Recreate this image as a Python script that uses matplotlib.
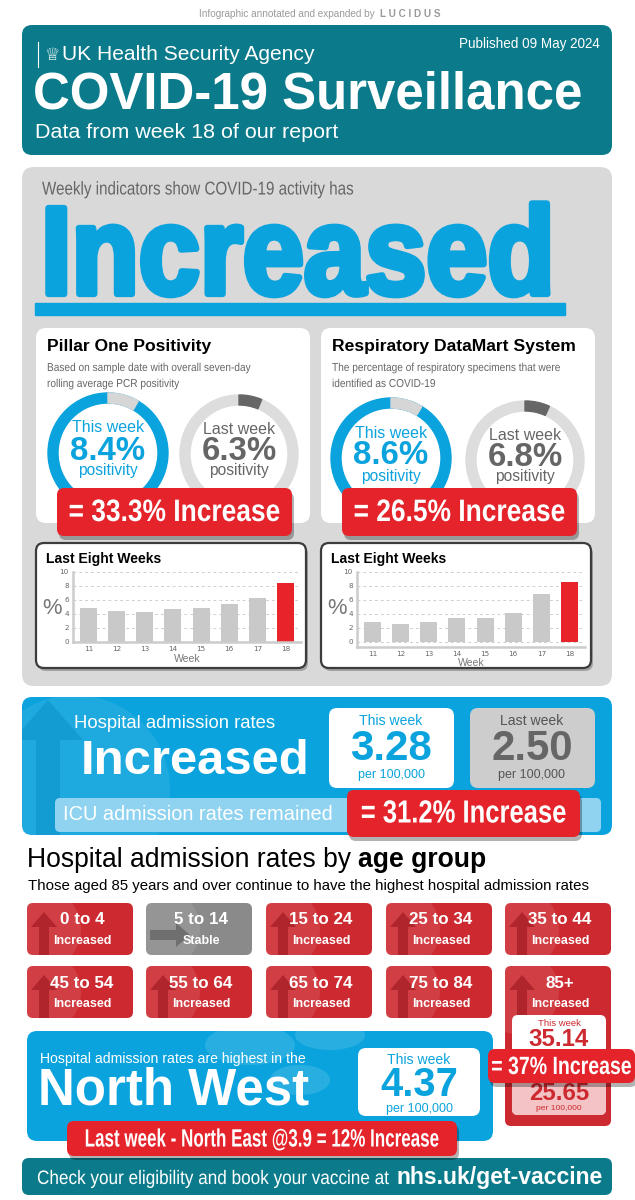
import matplotlib
matplotlib.use('Agg')
import matplotlib.pyplot as plt
from matplotlib.patches import FancyBboxPatch, Wedge, Circle, Ellipse, FancyArrow
from matplotlib.patheffects import AbstractPathEffect
from matplotlib.transforms import Affine2D
from matplotlib import font_manager

W, H = 635, 1200

weeks = [11, 12, 13, 14, 15, 16, 17, 18]
pillar_one = [4.8, 4.5, 4.3, 4.7, 4.8, 5.4, 6.3, 8.4]
datamart = [2.9, 2.6, 2.9, 3.4, 3.5, 4.2, 6.8, 8.6]
pillar_now, pillar_prev = 8.4, 6.3
datamart_now, datamart_prev = 8.6, 6.8
hosp_now, hosp_prev = 3.28, 2.50
age_groups = ['0 to 4', '5 to 14', '15 to 24', '25 to 34', '35 to 44',
              '45 to 54', '55 to 64', '65 to 74', '75 to 84', '85+']
age_trend = ['Increased', 'Stable', 'Increased', 'Increased', 'Increased',
             'Increased', 'Increased', 'Increased', 'Increased', 'Increased']
over85_now, over85_prev = 35.14, 25.65
region_now, region_prev = 4.37, 3.9

TEAL = '#0b7b8b'
BLUE = '#0ba3dd'
RED = '#e5232b'
AGE_RED = '#cc2a30'
PANEL = '#d9d9d9'

avail = {f.name for f in font_manager.fontManager.ttflist}
SANS = 'Liberation Sans' if 'Liberation Sans' in avail else 'DejaVu Sans'

fig = plt.figure(figsize=(W / 100, H / 100), dpi=100)
fig.patch.set_facecolor('white')
ax = fig.add_axes([0, 0, 1, 1])
ax.set_xlim(0, W)
ax.set_ylim(H, 0)
ax.axis('off')


class Squeeze(AbstractPathEffect):
    '''Narrow the glyphs horizontally around x0 (no condensed font installed).'''

    def __init__(self, x0, sx, lw=0):
        super().__init__()
        self.x0, self.sx, self.lw = x0, sx, lw

    def draw_path(self, renderer, gc, tpath, affine, rgbFace=None):
        aff = affine + Affine2D().translate(-self.x0, 0).scale(self.sx, 1).translate(self.x0, 0)
        gc0 = renderer.new_gc()
        gc0.copy_properties(gc)
        if self.lw:
            gc0.set_linewidth(self.lw)
            gc0.set_foreground(rgbFace)
            gc0.set_joinstyle('round')
        renderer.draw_path(gc0, tpath, aff, rgbFace)
        gc0.restore()


def box(x, y, w, h, fc, r=8, **kw):
    p = FancyBboxPatch((x, y), w, h, boxstyle=f'round,pad=0,rounding_size={r}',
                       fc=fc, ec=kw.pop('ec', 'none'), **kw)
    ax.add_patch(p)
    return p


def txt(x, y, s, px, color='white', weight='normal', ha='left', va='center', family=None,
        sx=None, lw=0, **kw):
    t = ax.text(x, y, s, fontsize=px * 0.72, color=color, fontweight=weight, ha=ha, va=va,
                family=family or SANS, **kw)
    if sx:
        x0 = ax.transData.transform((x, y))[0]
        t.set_path_effects([Squeeze(x0, sx, lw)])
    return t


def banner(x, y, w, h, s, px, sx):
    box(x + 2, y + 4, w, h, 'black', r=7, alpha=0.3, zorder=8)
    box(x, y, w, h, RED, r=7, zorder=9)
    txt(x + w / 2, y + h / 2 + 1, s, px, weight='bold', ha='center', sx=sx, zorder=10)


def pct(a, b, nd=1):
    return f'= {(a / b - 1) * 100:.{nd}f}% Increase'


# header
txt(375, 14, 'Infographic annotated and expanded by', 10, color='#9a9a9a', ha='right')
txt(380, 14, 'L U C I D U S', 10, color='#9a9a9a', weight='bold')
box(22, 25, 590, 130, TEAL, r=10)
ax.plot([38, 38], [42, 67], color='white', lw=0.8)
txt(44, 55, '\u2655', 17, family=['DejaVu Sans'])
txt(62, 55, 'UK Health Security Agency', 21)
txt(600, 44, 'Published 09 May 2024', 13.5, ha='right')
txt(33, 95, 'COVID-19 Surveillance', 51, weight='bold')
txt(35, 133, 'Data from week 18 of our report', 21.5)

# grey panel
box(22, 167, 590, 519, PANEL, r=12)
txt(42, 190, 'Weekly indicators show COVID-19 activity has', 18.5, color='#666666', sx=0.82)
txt(41, 262, 'Increased', 125, color=BLUE, weight='bold', sx=0.88, lw=4.5)
ax.add_patch(plt.Rectangle((35, 303), 530, 12, color=BLUE))


def ring_card(x0, title, sub, now, prev, c1, c2, banner_s):
    box(x0, 328, 274, 195, 'white', r=10)
    txt(x0 + 11, 346, title, 17.5, color='black', weight='bold')
    txt(x0 + 11, 368, sub[0], 11.5, color='#666666', sx=0.88)
    txt(x0 + 11, 384, sub[1], 11.5, color='#666666', sx=0.88)
    # this week ring
    ax.add_patch(Wedge(c1, 60, 0, 360, width=10, color=BLUE))
    ax.add_patch(Wedge(c1, 60, 270, 270 + 3.6 * now, width=10, color='#d6d6d6'))
    txt(c1[0], c1[1] - 25, 'This week', 16, color=BLUE, ha='center')
    txt(c1[0], c1[1] - 2, f'{now}%', 33, color=BLUE, weight='bold', ha='center')
    txt(c1[0], c1[1] + 18, 'positivity', 15.5, color=BLUE, ha='center')
    # last week ring
    ax.add_patch(Wedge(c2, 59, 0, 360, width=10, color='#dddddd'))
    ax.add_patch(Wedge(c2, 59, 270, 270 + 3.6 * prev, width=10, color='#666666'))
    txt(c2[0], c2[1] - 25, 'Last week', 16, color='#666666', ha='center')
    txt(c2[0], c2[1] - 2, f'{prev}%', 33, color='#666666', weight='bold', ha='center')
    txt(c2[0], c2[1] + 17, 'positivity', 15.5, color='#666666', ha='center')
    banner(x0 + 21, 488, 235, 48, banner_s, 31, 0.85)


ring_card(36, 'Pillar One Positivity',
          ['Based on sample date with overall seven-day', 'rolling average PCR positivity'],
          pillar_now, pillar_prev, (108, 453), (239, 454), pct(pillar_now, pillar_prev))
ring_card(321, 'Respiratory DataMart System',
          ['The percentage of respiratory specimens that were', 'identified as COVID-19'],
          datamart_now, datamart_prev, (391, 458), (525, 460), pct(datamart_now, datamart_prev))


def bar_card(x0, vals, ax_left, ymin):
    box(x0 + 2, 546, 270, 125, 'black', r=8, alpha=0.25)
    box(x0, 543, 270, 125, 'white', r=8, ec='#3c3c3c', lw=1.6)
    txt(x0 + 10, 559, 'Last Eight Weeks', 14, color='black', weight='bold')
    txt(x0 + 16, 608, '%', 22, color='#777777', ha='center')
    bottom_px = 642 + (-ymin) * 7
    axb = fig.add_axes([ax_left / W, 1 - bottom_px / H, 228 / W, (bottom_px - 572) / H])
    colors = ['#c9c9c9'] * (len(vals) - 1) + ['#e8232a']
    axb.bar(weeks, vals, width=0.6, color=colors, zorder=2)
    axb.set_xlim(10.45, 18.55)
    axb.set_ylim(ymin, 10)
    axb.set_yticks(range(0, 11, 2))
    axb.set_xticks(weeks)
    axb.patch.set_alpha(0)
    axb.grid(axis='y', linestyle=(0, (3, 3)), color='#cfcfcf', lw=0.7, zorder=0)
    for s in ['top', 'right']:
        axb.spines[s].set_visible(False)
    for s in ['left', 'bottom']:
        axb.spines[s].set_color('#cccccc')
        axb.spines[s].set_linewidth(1.8)
    axb.tick_params(length=0, labelsize=5.2, labelcolor='#666666', pad=3)
    axb.set_xlabel('Week', fontsize=7.5, color='#777777', labelpad=1, family=SANS)


bar_card(36, pillar_one, 73, 0)
bar_card(321, datamart, 357, -0.7)

# hospital admissions panel
hp = box(22, 697, 590, 138, BLUE, r=10)
c = Circle((75, 790), 95, fc='white', alpha=0.08)
ax.add_patch(c)
c.set_clip_path(hp)
a = FancyArrow(48, 845, 0, -105, width=24, head_width=70, head_length=40, fc='#0a8fc5', ec='none', alpha=0.5)
ax.add_patch(a)
a.set_clip_path(hp)
txt(74, 723, 'Hospital admission rates', 18.5)
txt(81, 761, 'Increased', 49, weight='bold')
box(329, 708, 125, 80, 'white', r=8)
txt(391, 721, 'This week', 14, color=BLUE, ha='center')
txt(391, 749, f'{hosp_now:.2f}', 42, color=BLUE, weight='bold', ha='center')
txt(391, 775, 'per 100,000', 12.5, color=BLUE, ha='center')
box(470, 708, 125, 80, '#cdcdcd', r=8)
txt(532, 721, 'Last week', 14, color='#555555', ha='center')
txt(532, 749, f'{hosp_prev:.2f}', 42, color='#666666', weight='bold', ha='center')
txt(532, 775, 'per 100,000', 12.5, color='#555555', ha='center')
box(55, 798, 546, 34, '#8fd3f0', r=5)
txt(63, 815, 'ICU admission rates remained', 20)
banner(347, 790, 233, 47, pct(hosp_now, hosp_prev), 32, 0.8)

# age group section
t1 = txt(27, 873, 'Hospital admission rates by ', 26.5, color='black', va='bottom')
ax.annotate('age group', xy=(1, 0), xycoords=t1, va='bottom', ha='left', fontsize=26.5 * 0.72,
            fontweight='bold', family=SANS, color='black')
txt(28, 886, 'Those aged 85 years and over continue to have the highest hospital admission rates',
    15, color='black')

col_x = [27, 146, 266, 386, 505]
row_y = [903, 966]
for i, (grp, trend) in enumerate(zip(age_groups, age_trend)):
    x, y = col_x[i % 5], row_y[i // 5]
    h = 160 if grp == '85+' else 52
    fc = '#8a8a8a' if trend == 'Stable' else AGE_RED
    b = box(x, y, 106, h, fc, r=6)
    cc = Circle((x + 12, y + 26), 42, fc='white', alpha=0.1)
    ax.add_patch(cc)
    cc.set_clip_path(b)
    if trend == 'Stable':
        ar = FancyArrow(x + 4, y + 32, 26, 0, width=10, head_width=24, head_length=14,
                        fc='#5f5f5f', ec='none', alpha=0.7)
    else:
        ar = FancyArrow(x + 17, y + 58, 0, -34, width=10, head_width=26, head_length=15,
                        fc='#a31b21', ec='none', alpha=0.7)
    ax.add_patch(ar)
    ar.set_clip_path(b)
    txt(x + 55, y + 17, grp, 17, weight='bold', ha='center')
    txt(x + 55, y + 38, trend, 12.5, weight='bold', ha='center')

# 85+ detail
box(512, 1015, 94, 100, 'white', r=6)
box(512, 1066, 94, 49, '#f3c3c5', r=6)
txt(559, 1023, 'This week', 9.5, color=AGE_RED, ha='center')
txt(559, 1039, f'{over85_now:.2f}', 24, color=AGE_RED, weight='bold', ha='center')
txt(559, 1055, 'per 100,000', 8.5, color=AGE_RED, ha='center')
txt(559, 1076, 'Last week', 9.5, color=AGE_RED, ha='center')
txt(559, 1093, f'{over85_prev:.2f}', 24, color=AGE_RED, weight='bold', ha='center')
txt(559, 1109, 'per 100,000', 8.5, color=AGE_RED, ha='center')

# North West panel
nw = box(27, 1031, 466, 110, BLUE, r=10)
for (ex, ey, ew, eh) in [(250, 1045, 90, 40), (330, 1035, 70, 30), (300, 1080, 60, 30)]:
    e = Ellipse((ex, ey), ew, eh, fc='white', alpha=0.12)
    ax.add_patch(e)
    e.set_clip_path(nw)
txt(40, 1059, 'Hospital admission rates are highest in the', 14)
txt(38, 1091, 'North West', 51, weight='bold')
box(358, 1048, 122, 68, 'white', r=8)
txt(419, 1060, 'This week', 14, color=BLUE, ha='center')
txt(419, 1085, f'{region_now:.2f}', 40, color=BLUE, weight='bold', ha='center')
txt(419, 1109, 'per 100,000', 12.5, color=BLUE, ha='center')
banner(488, 1049, 147, 34, pct(over85_now, over85_prev, 0), 25, 0.78)
banner(67, 1121, 390, 35,
       f'Last week - North East @{region_prev} {pct(region_now, region_prev, 0)}', 25, 0.68)

# footer
box(22, 1158, 590, 37, TEAL, r=7)
txt(37, 1184, 'Check your eligibility and book your vaccine at', 19.5, va='baseline', sx=0.88)
txt(396, 1184, 'nhs.uk/get-vaccine', 23, weight='bold', va='baseline')

fig.savefig('out.png', dpi=100)
